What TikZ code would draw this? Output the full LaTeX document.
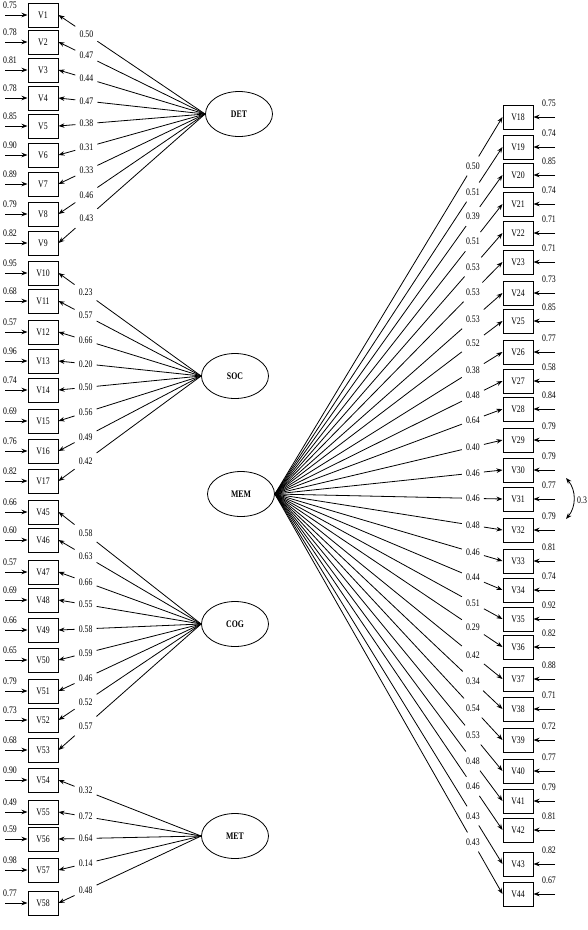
\documentclass[tikz,border=0pt]{standalone}
\usepackage{fontspec}
\setmainfont{Liberation Serif}[FakeStretch=0.78]
\usetikzlibrary{shapes.geometric, arrows.meta}
\begin{document}
\begin{tikzpicture}[x=1pt, y=-1pt, >={Stealth[length=6pt, width=4.5pt]},
    item/.style={draw, line width=1pt, minimum width=30pt, minimum height=24pt, inner sep=0pt},
    factor/.style={draw, ellipse, line width=0.8pt, minimum width=67pt, minimum height=45pt, inner sep=0pt, font=\bfseries},
    load/.style={inner xsep=4pt, inner ysep=6pt},
    path/.style={line width=0.8pt}]
  \useasboundingbox (0,0) rectangle (588,930);
  % latent factors
  \node[factor] (DET) at (239,114) {DET};
  \node[factor] (SOC) at (235,376) {SOC};
  \node[factor] (MEM) at (241,494) {MEM};
  \node[factor] (COG) at (235,624) {COG};
  \node[factor] (MET) at (235,836) {MET};
  % left items with residuals
  \foreach \v/\y/\e in {V1/15/0.75, V2/42/0.78, V3/70/0.81, V4/98/0.78, V5/126/0.85, V6/155/0.90,
      V7/184/0.89, V8/214/0.79, V9/243/0.82, V10/273/0.95, V11/301/0.68, V12/332/0.57,
      V13/361/0.96, V14/390/0.74, V15/421/0.69, V16/451/0.76, V17/481/0.82, V45/512/0.66,
      V46/540/0.60, V47/572/0.57, V48/600/0.69, V49/630/0.66, V50/660/0.65, V51/691/0.79,
      V52/720/0.73, V53/750/0.68, V54/780/0.90, V55/812/0.49, V56/839/0.59, V57/870/0.98,
      V58/903/0.77} {
    \node[item] (\v) at (43,\y) {\v};
    \coordinate (r\v) at (5,\y);
    \draw[path, ->] (r\v) -- (\v);
    \node (e\v) at (10,\y-10) {\e};
  }
  % right items with residuals
  \foreach \v/\y/\e in {V18/117/0.75, V19/147/0.74, V20/175/0.85, V21/204/0.74, V22/233/0.71,
      V23/262/0.71, V24/293/0.73, V25/321/0.85, V26/352/0.77, V27/381/0.58, V28/409/0.84,
      V29/440/0.79, V30/470/0.79, V31/499/0.77, V32/530/0.79, V33/561/0.81, V34/590/0.74,
      V35/619/0.92, V36/647/0.82, V37/679/0.88, V38/709/0.71, V39/740/0.72, V40/771/0.77,
      V41/801/0.79, V42/830/0.81, V43/864/0.82, V44/894/0.67} {
    \node[item] (\v) at (518,\y) {\v};
    \coordinate (r\v) at (555,\y);
    \draw[path, ->] (r\v) -- (\v);
    \node (e\v) at (549,\y-14) {\e};
  }
  % loadings, broken by their values
  \foreach \f/\v/\l in {DET/V1/0.50, DET/V2/0.47, DET/V3/0.44, DET/V4/0.47, DET/V5/0.38,
      DET/V6/0.31, DET/V7/0.33, DET/V8/0.46, DET/V9/0.43,
      SOC/V10/0.23, SOC/V11/0.57, SOC/V12/0.66, SOC/V13/0.20, SOC/V14/0.50, SOC/V15/0.56,
      SOC/V16/0.49, SOC/V17/0.42,
      COG/V45/0.58, COG/V46/0.63, COG/V47/0.66, COG/V48/0.55, COG/V49/0.58, COG/V50/0.59,
      COG/V51/0.46, COG/V52/0.52, COG/V53/0.57,
      MET/V54/0.32, MET/V55/0.72, MET/V56/0.64, MET/V57/0.14, MET/V58/0.48} {
    \path (\f.west) -- node[load, pos=0.81] (l\v) {\l} (\v.east);
    \draw[path] (\f.west) -- (l\v);
    \draw[path, ->] (l\v) -- (\v.east);
  }
  \foreach \v/\l in {V18/0.50, V19/0.51, V20/0.39, V21/0.51, V22/0.53, V23/0.53, V24/0.53,
      V25/0.52, V26/0.38, V27/0.48, V28/0.64, V29/0.40, V30/0.46, V31/0.46, V32/0.48,
      V33/0.46, V34/0.44, V35/0.51, V36/0.29, V37/0.42, V38/0.34, V39/0.54, V40/0.53,
      V41/0.48, V42/0.46, V43/0.43, V44/0.43} {
    \path (MEM.east) -- node[load, pos=0.87] (l\v) {\l} (\v.west);
    \draw[path] (MEM.east) -- (l\v);
    \draw[path, ->] (l\v) -- (\v.west);
  }
  % correlated residuals
  \coordinate (c31) at (566,478);
  \coordinate (c32) at (566,519);
  \draw[path, <->] (c31) to[bend left=40] (c32);
  \node[anchor=west, inner sep=0pt] (cov) at (577,500) {0.3};
\end{tikzpicture}
\end{document}
